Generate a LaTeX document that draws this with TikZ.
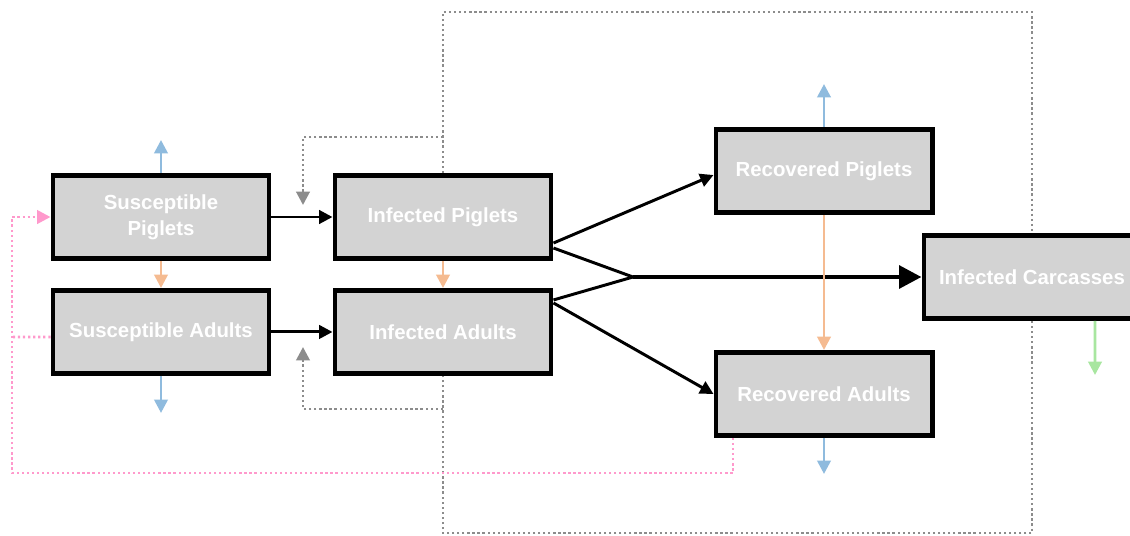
\documentclass[tikz,border=0pt]{standalone}
\usepackage{fontspec}
\setmainfont{Liberation Sans}
\usetikzlibrary{positioning,arrows.meta}
\definecolor{boxgray}{RGB}{211,211,211}
\definecolor{exitblue}{RGB}{143,187,222}
\definecolor{ageorange}{RGB}{245,187,145}
\definecolor{carcgreen}{RGB}{168,230,160}
\definecolor{loopgray}{RGB}{140,140,140}
\definecolor{returnpink}{RGB}{255,153,204}

\begin{document}
\begin{tikzpicture}[x=0.025cm,y=-0.025cm,
	comp/.style={minimum height=2.075cm,minimum width=5.4cm,inner sep=0pt,line width=3.5pt,draw=black,fill=boxgray,text=white,align=center,font=\bfseries\fontsize{14.5}{18.5}\selectfont},
	tip/.style={-{Triangle[length=9.5pt,width=9.5pt]}},
	blk/.style={line width=2.1pt,tip},
	flow/.style={line width=3.3pt,-{Triangle[length=16pt,width=16pt]}},
	ageing/.style={ageorange,line width=2pt,tip},
	exits/.style={exitblue,line width=2pt,tip},
	loopline/.style={loopgray,line width=2pt,dash pattern=on 1.6pt off 2pt},
	backline/.style={returnpink,line width=2pt,dash pattern=on 1.6pt off 2pt}]
		\clip (0,0) rectangle (1130,535);
		
		\node[comp] (sp) at (161,217) {Susceptible\\Piglets};
		\node[comp,below=0.675cm of sp] (sa) {Susceptible Adults};
		\node[comp,right=1.525cm of sp] (ip) {Infected Piglets};
		\node[comp,below=0.675cm of ip] (ia) {Infected Adults};
		\node[comp] (rp) at (824,171) {Recovered Piglets};
		\node[comp,below=3.375cm of rp] (ra) {Recovered Adults};
		\node[comp] (ic) at (1032,277) {Infected Carcasses};
		
		% infection
		\draw[blk] (sp) -- (ip);
		\draw[blk] (sa) -- (ia);
		
		% recovery and death
		\coordinate (mix) at (633,277);
		\draw[blk] ([yshift=-0.65cm]ip.east) -- ([yshift=-0.1cm]rp.west);
		\draw[blk] ([yshift=0.725cm]ia.east) -- (ra.west);
		\draw[line width=2.1pt] ([yshift=-0.775cm]ip.east) -- (mix);
		\draw[line width=2.1pt] ([yshift=0.8cm]ia.east) -- (mix);
		\draw[flow] (mix) -- (ic.west);
		
		% ageing
		\draw[ageing] (sp) -- (sa);
		\draw[ageing] (ip) -- (ia);
		\draw[ageing] (rp) -- (ra);
		
		% exits
		\coordinate[above=0.825cm of sp] (spout);
		\coordinate[below=0.925cm of sa] (saout);
		\coordinate[above=1.075cm of rp] (rpout);
		\coordinate[below=0.9cm of ra] (raout);
		\draw[exits] (sp) -- (spout);
		\draw[exits] (sa) -- (saout);
		\draw[exits] (rp) -- (rpout);
		\draw[exits] (ra) -- (raout);
		\coordinate (icout) at (1095,375);
		\draw[carcgreen,line width=2pt,tip] ([xshift=1.575cm]ic.south) -- (icout);
		
		% carcass contact
		\coordinate (topline) at (1032,12);
		\coordinate (botline) at (1032,533);
		\draw[loopline] (ip.north) |- (topline) -- (ic.north);
		\draw[loopline] (ic.south) -- (botline) -| (ia.south);
		\coordinate[above=0.9cm of ip] (ipfb);
		\coordinate[below=0.825cm of ia] (iafb);
		\coordinate (ipin) at (303,205);
		\coordinate (iain) at (303,347);
		\draw[loopline,tip] (ipfb) -| (ipin);
		\draw[loopline,tip] (iafb) -| (iain);
		
		% loss of immunity
		\coordinate (pinkcorner) at (12,473);
		\coordinate (pinkjoin) at (12,337);
		\draw[backline,tip] ([xshift=-2.275cm]ra.south) |- (pinkcorner) |- (sp.west);
		\draw[backline] ([yshift=-0.125cm]sa.west) -- (pinkjoin);
	\end{tikzpicture}
\end{document}
